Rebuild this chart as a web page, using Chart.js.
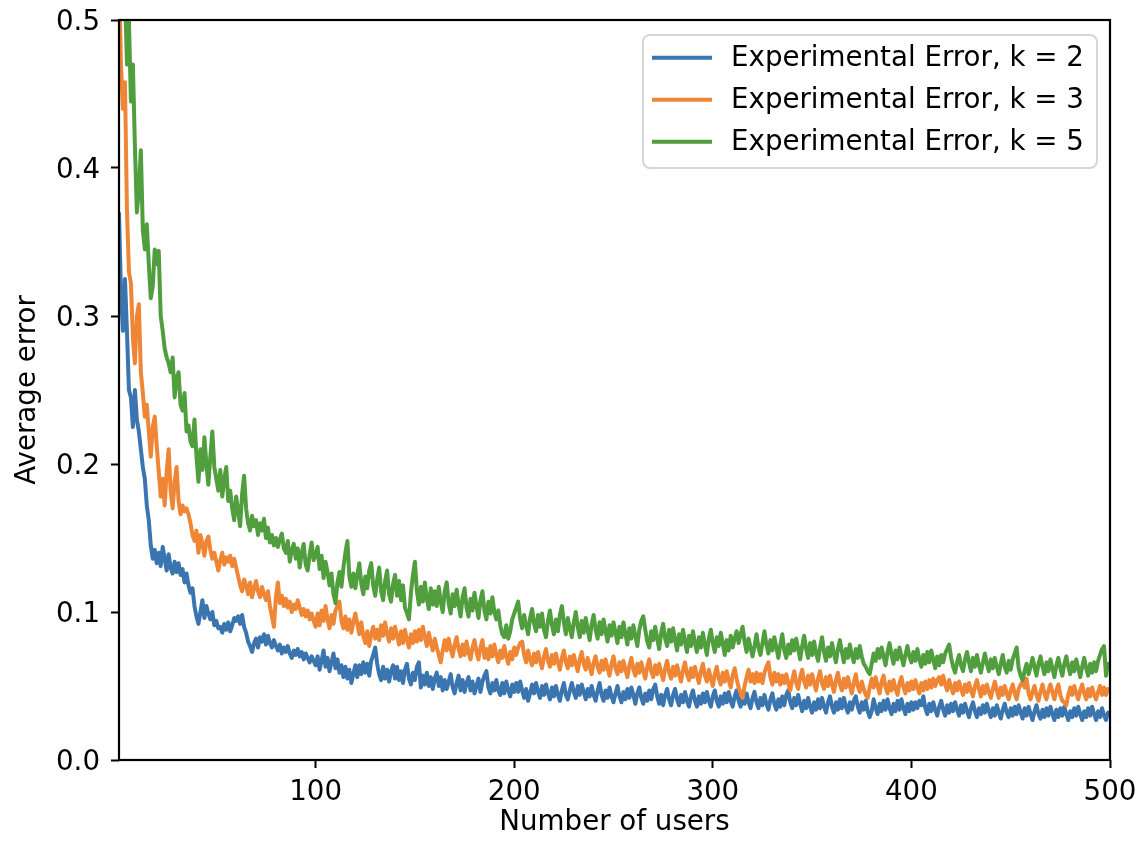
<!DOCTYPE html>
<html>
<head>
<meta charset="utf-8">
<script src="https://cdn.jsdelivr.net/npm/chart.js@4.4.1/dist/chart.umd.min.js"></script>
<style>
html,body{margin:0;padding:0;background:#fff;}
#wrap{width:1142px;height:856px;position:relative;}
</style>
</head>
<body>
<div id="wrap"><canvas id="c"></canvas></div>
<script>
// Number of users (x values)
const users = Array.from({length: 500}, (_, i) => i + 1);

// Experimental Error, k = 2
const errK2 = [
0.370,0.315,0.290,0.325,0.290,0.250,0.245,0.225,0.250,0.230,
0.222,0.210,0.198,0.190,0.172,0.162,0.145,0.136,0.142,0.133,
0.140,0.131,0.144,0.136,0.128,0.139,0.130,0.126,0.134,0.127,
0.133,0.125,0.129,0.120,0.126,0.118,0.113,0.116,0.104,0.097,
0.092,0.100,0.108,0.096,0.104,0.099,0.095,0.100,0.091,0.094,
0.089,0.090,0.086,0.092,0.088,0.093,0.087,0.091,0.096,0.094,
0.097,0.092,0.098,0.090,0.086,0.080,0.077,0.073,0.079,0.082,
0.076,0.083,0.080,0.085,0.078,0.084,0.079,0.076,0.081,0.077,
0.074,0.078,0.072,0.076,0.073,0.077,0.072,0.069,0.074,0.071,
0.075,0.070,0.073,0.068,0.072,0.069,0.066,0.070,0.067,0.064,
0.070,0.061,0.067,0.074,0.063,0.069,0.060,0.066,0.072,0.062,
0.068,0.059,0.064,0.056,0.063,0.055,0.061,0.052,0.058,0.064,
0.056,0.064,0.058,0.066,0.059,0.065,0.057,0.067,0.071,0.076,
0.065,0.058,0.054,0.063,0.055,0.061,0.053,0.060,0.064,0.055,
0.063,0.054,0.060,0.052,0.061,0.065,0.055,0.051,0.059,0.054,
0.063,0.066,0.049,0.057,0.051,0.059,0.050,0.056,0.048,0.055,
0.059,0.050,0.056,0.047,0.054,0.048,0.053,0.058,0.049,0.045,
0.052,0.057,0.047,0.054,0.046,0.052,0.056,0.047,0.053,0.045,
0.050,0.055,0.046,0.053,0.057,0.060,0.049,0.045,0.052,0.047,
0.054,0.047,0.044,0.052,0.045,0.053,0.047,0.043,0.051,0.046,
0.052,0.046,0.053,0.047,0.042,0.048,0.040,0.045,0.051,0.045,
0.052,0.046,0.042,0.050,0.044,0.051,0.045,0.041,0.049,0.043,
0.050,0.044,0.040,0.047,0.052,0.044,0.041,0.047,0.052,0.046,
0.042,0.050,0.044,0.051,0.046,0.041,0.048,0.043,0.050,0.044,
0.040,0.047,0.052,0.044,0.040,0.047,0.042,0.049,0.043,0.039,
0.045,0.050,0.043,0.039,0.046,0.041,0.048,0.042,0.049,0.044,
0.038,0.045,0.049,0.042,0.038,0.045,0.040,0.047,0.041,0.048,
0.051,0.043,0.038,0.044,0.037,0.044,0.048,0.041,0.037,0.044,
0.048,0.041,0.037,0.044,0.039,0.046,0.040,0.036,0.043,0.047,
0.040,0.036,0.043,0.038,0.045,0.039,0.046,0.040,0.036,0.043,
0.047,0.040,0.036,0.043,0.038,0.045,0.039,0.046,0.040,0.036,
0.043,0.047,0.040,0.036,0.044,0.038,0.045,0.039,0.035,0.042,
0.046,0.039,0.035,0.042,0.037,0.044,0.038,0.034,0.041,0.045,
0.038,0.034,0.041,0.036,0.043,0.037,0.044,0.047,0.039,0.035,
0.042,0.037,0.044,0.038,0.033,0.040,0.035,0.042,0.036,0.032,
0.039,0.034,0.041,0.035,0.042,0.036,0.032,0.039,0.043,0.036,
0.032,0.039,0.034,0.041,0.035,0.042,0.036,0.032,0.039,0.034,
0.040,0.043,0.036,0.032,0.039,0.034,0.040,0.033,0.029,0.033,
0.041,0.035,0.031,0.038,0.033,0.040,0.034,0.041,0.035,0.031,
0.038,0.033,0.040,0.034,0.041,0.035,0.031,0.038,0.033,0.039,
0.034,0.039,0.035,0.040,0.037,0.043,0.035,0.031,0.038,0.033,
0.039,0.034,0.030,0.036,0.040,0.034,0.030,0.037,0.032,0.038,
0.033,0.039,0.034,0.030,0.037,0.032,0.038,0.033,0.029,0.035,
0.039,0.033,0.029,0.035,0.031,0.037,0.032,0.038,0.033,0.029,
0.035,0.030,0.037,0.032,0.028,0.034,0.038,0.032,0.029,0.035,
0.030,0.036,0.031,0.037,0.032,0.028,0.035,0.030,0.036,0.031,
0.027,0.033,0.037,0.031,0.028,0.034,0.029,0.035,0.030,0.036,
0.031,0.027,0.034,0.029,0.035,0.030,0.036,0.031,0.027,0.033,
0.029,0.035,0.030,0.036,0.031,0.027,0.033,0.029,0.035,0.030,
0.036,0.031,0.027,0.033,0.029,0.035,0.030,0.027,0.032,0.030
];

// Experimental Error, k = 3
const errK3 = [
0.530,0.470,0.440,0.458,0.372,0.330,0.322,0.285,0.268,0.300,
0.308,0.262,0.248,0.232,0.240,0.222,0.205,0.225,0.232,0.212,
0.195,0.178,0.190,0.172,0.195,0.210,0.182,0.170,0.188,0.198,
0.175,0.166,0.172,0.168,0.170,0.166,0.160,0.152,0.148,0.155,
0.140,0.152,0.146,0.138,0.148,0.151,0.142,0.136,0.140,0.134,
0.128,0.135,0.140,0.132,0.137,0.134,0.138,0.131,0.136,0.130,
0.124,0.118,0.114,0.122,0.118,0.112,0.120,0.110,0.116,0.121,
0.114,0.110,0.117,0.112,0.108,0.114,0.104,0.097,0.090,0.110,
0.120,0.106,0.111,0.104,0.109,0.103,0.107,0.100,0.105,0.102,
0.108,0.103,0.098,0.102,0.097,0.101,0.095,0.099,0.094,0.090,
0.099,0.091,0.101,0.094,0.104,0.095,0.089,0.098,0.092,0.101,
0.104,0.107,0.094,0.089,0.097,0.088,0.095,0.086,0.093,0.099,
0.092,0.085,0.093,0.084,0.079,0.087,0.077,0.085,0.090,0.082,
0.088,0.081,0.091,0.084,0.093,0.085,0.080,0.089,0.082,0.090,
0.084,0.078,0.087,0.079,0.088,0.081,0.076,0.085,0.079,0.087,
0.080,0.088,0.081,0.090,0.083,0.077,0.086,0.079,0.074,0.082,
0.076,0.071,0.066,0.074,0.081,0.074,0.082,0.075,0.070,0.078,
0.083,0.075,0.070,0.078,0.071,0.080,0.073,0.068,0.076,0.081,
0.073,0.068,0.076,0.081,0.069,0.075,0.068,0.077,0.070,0.078,
0.071,0.066,0.074,0.069,0.077,0.070,0.065,0.073,0.068,0.076,
0.071,0.076,0.079,0.080,0.071,0.066,0.074,0.068,0.064,0.072,
0.066,0.073,0.067,0.062,0.070,0.075,0.067,0.063,0.071,0.065,
0.072,0.066,0.061,0.069,0.074,0.066,0.062,0.070,0.064,0.071,
0.065,0.060,0.068,0.073,0.065,0.061,0.069,0.063,0.058,0.066,
0.070,0.063,0.059,0.067,0.061,0.068,0.062,0.057,0.065,0.070,
0.062,0.058,0.066,0.060,0.067,0.061,0.056,0.064,0.069,0.061,
0.057,0.065,0.059,0.066,0.060,0.055,0.063,0.068,0.060,0.056,
0.064,0.058,0.065,0.059,0.054,0.062,0.067,0.059,0.055,0.063,
0.057,0.064,0.058,0.053,0.061,0.066,0.058,0.054,0.062,0.056,
0.063,0.057,0.052,0.060,0.065,0.057,0.053,0.061,0.055,0.050,
0.058,0.063,0.055,0.051,0.059,0.053,0.060,0.054,0.049,0.057,
0.062,0.055,0.049,0.045,0.042,0.050,0.056,0.061,0.053,0.058,
0.052,0.059,0.053,0.058,0.052,0.059,0.063,0.066,0.056,0.051,
0.059,0.053,0.058,0.051,0.057,0.052,0.058,0.052,0.047,0.054,
0.060,0.052,0.048,0.056,0.061,0.053,0.049,0.057,0.051,0.058,
0.052,0.047,0.055,0.060,0.052,0.048,0.056,0.050,0.057,0.051,
0.046,0.054,0.059,0.051,0.047,0.055,0.049,0.056,0.050,0.045,
0.052,0.058,0.050,0.046,0.053,0.048,0.044,0.042,0.049,0.055,
0.049,0.056,0.050,0.045,0.053,0.057,0.049,0.045,0.053,0.047,
0.054,0.048,0.044,0.052,0.056,0.049,0.045,0.052,0.047,0.053,
0.048,0.054,0.049,0.045,0.052,0.047,0.053,0.048,0.054,0.049,
0.055,0.050,0.054,0.056,0.051,0.057,0.051,0.047,0.054,0.049,
0.045,0.052,0.047,0.053,0.048,0.044,0.051,0.046,0.052,0.047,
0.043,0.050,0.054,0.048,0.043,0.050,0.045,0.051,0.046,0.042,
0.048,0.053,0.047,0.042,0.049,0.044,0.050,0.045,0.041,0.047,
0.051,0.045,0.041,0.048,0.051,0.053,0.049,0.055,0.045,0.041,
0.046,0.050,0.044,0.040,0.046,0.051,0.045,0.041,0.047,0.051,
0.046,0.041,0.047,0.051,0.044,0.040,0.039,0.037,0.044,0.049,
0.044,0.050,0.045,0.041,0.047,0.051,0.045,0.041,0.048,0.043,
0.049,0.044,0.041,0.046,0.050,0.044,0.049,0.044,0.048,0.046
];

// Experimental Error, k = 5
const errK5 = [
0.640,0.600,0.560,0.520,0.470,0.500,0.445,0.470,0.415,0.370,
0.385,0.412,0.358,0.345,0.362,0.335,0.312,0.320,0.345,0.335,
0.344,0.300,0.290,0.278,0.272,0.268,0.262,0.272,0.245,0.258,
0.262,0.240,0.236,0.248,0.222,0.226,0.215,0.212,0.230,0.205,
0.188,0.210,0.196,0.218,0.200,0.186,0.205,0.222,0.198,0.190,
0.182,0.196,0.178,0.190,0.198,0.175,0.182,0.170,0.162,0.178,
0.168,0.158,0.180,0.192,0.170,0.160,0.155,0.165,0.158,0.162,
0.152,0.160,0.155,0.163,0.150,0.157,0.147,0.152,0.145,0.150,
0.144,0.149,0.153,0.143,0.140,0.148,0.134,0.142,0.146,0.136,
0.143,0.130,0.140,0.146,0.132,0.128,0.139,0.147,0.135,0.138,
0.144,0.129,0.138,0.123,0.134,0.127,0.118,0.126,0.112,0.106,
0.120,0.127,0.117,0.130,0.140,0.148,0.124,0.117,0.126,0.116,
0.125,0.133,0.119,0.112,0.124,0.116,0.128,0.133,0.118,0.111,
0.122,0.130,0.114,0.108,0.121,0.128,0.112,0.107,0.119,0.125,
0.111,0.121,0.108,0.118,0.103,0.099,0.095,0.113,0.125,0.134,
0.114,0.105,0.117,0.107,0.120,0.109,0.102,0.116,0.105,0.114,
0.104,0.117,0.107,0.100,0.114,0.120,0.106,0.099,0.112,0.104,
0.115,0.105,0.097,0.110,0.116,0.103,0.097,0.109,0.101,0.113,
0.104,0.096,0.108,0.114,0.101,0.095,0.107,0.099,0.110,0.100,
0.095,0.101,0.091,0.085,0.083,0.091,0.082,0.087,0.095,0.099,
0.103,0.107,0.095,0.089,0.098,0.091,0.085,0.096,0.102,0.092,
0.087,0.098,0.090,0.099,0.088,0.083,0.094,0.101,0.091,0.085,
0.095,0.087,0.098,0.104,0.093,0.085,0.096,0.089,0.083,0.093,
0.100,0.090,0.083,0.094,0.086,0.096,0.088,0.081,0.092,0.098,
0.088,0.082,0.093,0.085,0.095,0.087,0.080,0.091,0.084,0.093,
0.086,0.079,0.090,0.083,0.093,0.085,0.078,0.089,0.082,0.091,
0.084,0.077,0.088,0.094,0.097,0.088,0.080,0.076,0.087,0.081,
0.090,0.082,0.075,0.086,0.092,0.082,0.077,0.088,0.080,0.089,
0.081,0.074,0.085,0.078,0.088,0.080,0.073,0.084,0.077,0.087,
0.079,0.073,0.083,0.076,0.086,0.078,0.071,0.082,0.088,0.079,
0.073,0.083,0.077,0.086,0.079,0.071,0.081,0.074,0.084,0.076,
0.082,0.087,0.079,0.085,0.090,0.080,0.073,0.082,0.076,0.070,
0.077,0.085,0.076,0.071,0.079,0.087,0.078,0.072,0.081,0.074,
0.083,0.076,0.069,0.078,0.085,0.074,0.069,0.078,0.072,0.081,
0.074,0.082,0.075,0.068,0.077,0.084,0.075,0.069,0.079,0.071,
0.080,0.072,0.067,0.076,0.083,0.073,0.067,0.076,0.070,0.079,
0.072,0.066,0.075,0.081,0.073,0.066,0.075,0.069,0.078,0.071,
0.066,0.075,0.069,0.077,0.070,0.065,0.063,0.060,0.058,0.065,
0.072,0.067,0.075,0.069,0.076,0.070,0.064,0.073,0.079,0.071,
0.065,0.074,0.068,0.076,0.070,0.064,0.071,0.077,0.070,0.066,
0.073,0.067,0.075,0.068,0.063,0.071,0.065,0.073,0.066,0.074,
0.068,0.062,0.070,0.064,0.071,0.066,0.072,0.075,0.078,0.069,
0.063,0.059,0.066,0.071,0.064,0.060,0.068,0.073,0.066,0.060,
0.069,0.063,0.071,0.064,0.059,0.066,0.072,0.065,0.060,0.068,
0.062,0.069,0.063,0.058,0.065,0.071,0.063,0.059,0.067,0.061,
0.068,0.072,0.076,0.062,0.057,0.054,0.060,0.065,0.058,0.063,
0.069,0.063,0.057,0.065,0.070,0.063,0.058,0.066,0.060,0.068,
0.062,0.056,0.064,0.069,0.062,0.057,0.065,0.070,0.063,0.058,
0.066,0.060,0.068,0.062,0.056,0.063,0.069,0.062,0.057,0.065,
0.059,0.066,0.060,0.067,0.071,0.075,0.077,0.057,0.065,0.061
];

const seriesLabels = ['Experimental Error, k = 2', 'Experimental Error, k = 3', 'Experimental Error, k = 5'];
const xTickValues = [100, 200, 300, 400, 500];
const yTickValues = [0.0, 0.1, 0.2, 0.3, 0.4, 0.5];
const seriesColors = ['#3a75b0', '#ef8636', '#519e3e'];

const FONT_SIZE = 27.7;
Chart.defaults.font.family = "'DejaVu Sans', sans-serif";
Chart.defaults.font.size = FONT_SIZE;
Chart.defaults.color = '#000';

function toPoints(arr) { return arr.map((v, i) => ({x: users[i], y: v})); }

const framePlugin = {
  id: 'frame',
  afterDatasetsDraw(chart) {
    const {ctx, chartArea: a} = chart;
    ctx.save();
    ctx.strokeStyle = '#000';
    ctx.lineWidth = 2.2;
    ctx.strokeRect(a.left, a.top, a.right - a.left, a.bottom - a.top);
    ctx.restore();
  }
};

const boxLegend = {
  id: 'boxLegend',
  afterDraw(chart) {
    const {ctx, chartArea: a} = chart;
    const bw = 454, bh = 133;
    const bx = a.right - 13 - bw, by = a.top + 15;
    ctx.save();
    ctx.beginPath();
    ctx.roundRect(bx, by, bw, bh, 7);
    ctx.fillStyle = 'rgba(255,255,255,0.8)';
    ctx.fill();
    ctx.strokeStyle = '#d6d6d6';
    ctx.lineWidth = 2;
    ctx.stroke();
    ctx.font = FONT_SIZE + "px 'DejaVu Sans'";
    ctx.textBaseline = 'middle';
    ctx.textAlign = 'left';
    chart.data.datasets.forEach((ds, i) => {
      const y = by + 22.7 + i * 42;
      ctx.strokeStyle = ds.borderColor;
      ctx.lineWidth = 4;
      ctx.lineCap = 'butt';
      ctx.beginPath();
      ctx.moveTo(bx + 9, y);
      ctx.lineTo(bx + 69, y);
      ctx.stroke();
      ctx.fillStyle = '#000';
      ctx.fillText(ds.label, bx + 88, y + 1);
    });
    ctx.restore();
  }
};

const gridOpts = {
  display: true, drawOnChartArea: false, drawTicks: true,
  tickLength: 8, tickColor: '#000', tickWidth: 2, color: '#000'
};

new Chart(document.getElementById('c'), {
  type: 'line',
  data: {
    datasets: [
      {label: seriesLabels[0], data: toPoints(errK2), borderColor: seriesColors[0], backgroundColor: seriesColors[0], order: 3},
      {label: seriesLabels[1], data: toPoints(errK3), borderColor: seriesColors[1], backgroundColor: seriesColors[1], order: 2},
      {label: seriesLabels[2], data: toPoints(errK5), borderColor: seriesColors[2], backgroundColor: seriesColors[2], order: 1}
    ]
  },
  options: {
    responsive: true,
    maintainAspectRatio: false,
    animation: false,
    layout: {padding: {left: 0, right: 32, top: 20, bottom: 0}},
    elements: {
      line: {borderWidth: 4, tension: 0, fill: false, borderJoinStyle: 'round'},
      point: {radius: 0, hoverRadius: 0}
    },
    datasets: {line: {clip: 0}},
    plugins: {legend: {display: false}, tooltip: {enabled: false}},
    scales: {
      x: {
        type: 'linear', min: 1, max: 500,
        afterFit(s) { s.height = 96; s.paddingLeft = 0; s.paddingRight = 0; },
        afterBuildTicks(s) { s.ticks = xTickValues.map(v => ({value: v})); },
        ticks: {padding: 8, maxRotation: 0, autoSkip: false, color: '#000', callback: v => String(v)},
        grid: gridOpts,
        border: {display: false},
        title: {display: true, text: 'Number of users', color: '#000', padding: {top: 0, bottom: 17}}
      },
      y: {
        type: 'linear', min: 0, max: 0.5,
        afterFit(s) { s.width = 119; s.paddingTop = 0; s.paddingBottom = 0; },
        afterBuildTicks(s) { s.ticks = yTickValues.map(v => ({value: v})); },
        ticks: {padding: 11, labelOffset: 3, color: '#000', callback: v => Number(v).toFixed(1)},
        grid: gridOpts,
        border: {display: false},
        title: {display: true, text: 'Average error', color: '#000', padding: {top: 11.5, bottom: 0}}
      }
    }
  },
  plugins: [framePlugin, boxLegend]
});
</script>
</body>
</html>
